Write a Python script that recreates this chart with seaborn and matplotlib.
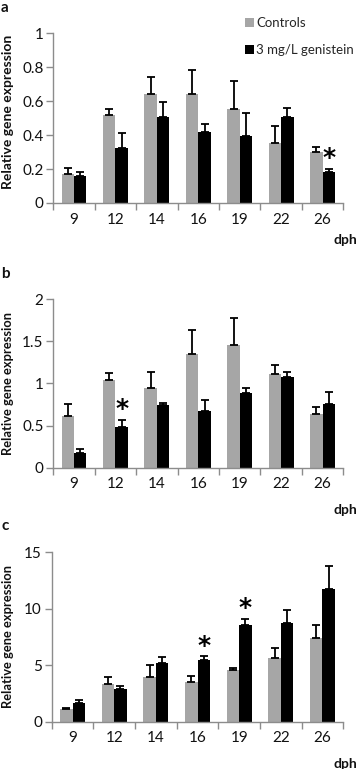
import matplotlib
matplotlib.use("Agg")
import matplotlib.pyplot as plt
import seaborn as sns
import numpy as np
import pandas as pd
from matplotlib.ticker import FixedLocator, FuncFormatter, NullFormatter

sns.set_style("white")
plt.rcParams['font.family'] = ['Lato', 'DejaVu Sans']

# ---- data ----
dph = ["9", "12", "14", "16", "19", "22", "26"]
groups = ["Controls", "3 mg/L genistein"]

a_ctrl = [0.17, 0.52, 0.643, 0.643, 0.553, 0.353, 0.30]
a_ctrl_err = [0.034, 0.033, 0.10, 0.141, 0.167, 0.102, 0.03]
a_gen = [0.157, 0.327, 0.506, 0.416, 0.392, 0.508, 0.182]
a_gen_err = [0.025, 0.087, 0.092, 0.049, 0.141, 0.053, 0.02]
a_stars = [6]

b_ctrl = [0.61, 1.04, 0.95, 1.35, 1.45, 1.11, 0.64]
b_ctrl_err = [0.15, 0.08, 0.18, 0.28, 0.33, 0.11, 0.08]
b_gen = [0.17, 0.486, 0.74, 0.67, 0.88, 1.07, 0.76]
b_gen_err = [0.055, 0.084, 0.03, 0.13, 0.07, 0.06, 0.14]
b_stars = [1]

c_ctrl = [1.15, 3.33, 3.95, 3.48, 4.54, 5.6, 7.4]
c_ctrl_err = [0.09, 0.67, 1.05, 0.59, 0.24, 0.89, 1.15]
c_gen = [1.65, 2.89, 5.19, 5.46, 8.58, 8.73, 11.74]
c_gen_err = [0.30, 0.30, 0.50, 0.32, 0.54, 1.12, 2.04]
c_stars = [3, 4]

a_yticks = [0, 0.2, 0.4, 0.6, 0.8, 1]
b_yticks = [0, 0.5, 1, 1.5, 2]
c_yticks = [0, 5, 10, 15]

GRAY = "#A6A6A6"
BLACK = "#000000"
SPINE = "#8C8C8C"

W, H = 357, 769
fig = plt.figure(figsize=(W / 100, H / 100), dpi=100)


def px_axes(left, right, top, bottom):
    return fig.add_axes([left / W, 1 - bottom / H, (right - left) / W, (bottom - top) / H])


panels = [
    dict(letter="a", ctrl=a_ctrl, cerr=a_ctrl_err, gen=a_gen, gerr=a_gen_err, stars=a_stars,
         yticks=a_yticks, box=(53.3, 343.3, 33.3, 203.0), legend=True, lab_y=0.535, lab_fs=10,
         dph_y=240, letter_y=1),
    dict(letter="b", ctrl=b_ctrl, cerr=b_ctrl_err, gen=b_gen, gerr=b_gen_err, stars=b_stars,
         yticks=b_yticks, box=(53.3, 343.3, 299.0, 467.7), legend=False, lab_y=0.5, lab_fs=9.3,
         dph_y=510, letter_y=267),
    dict(letter="c", ctrl=c_ctrl, cerr=c_ctrl_err, gen=c_gen, gerr=c_gen_err, stars=c_stars,
         yticks=c_yticks, box=(51.7, 343.3, 552.3, 721.7), legend=False, lab_y=0.5, lab_fs=9.3,
         dph_y=764, letter_y=519),
]

for p in panels:
    ax = px_axes(*p["box"])
    df = pd.DataFrame({
        "dph": dph * 2,
        "group": [groups[0]] * len(dph) + [groups[1]] * len(dph),
        "value": list(p["ctrl"]) + list(p["gen"]),
    })
    sns.barplot(data=df, x="dph", y="value", hue="group", order=dph, hue_order=groups,
                palette=[GRAY, BLACK], width=0.6, gap=0, errorbar=None, saturation=1,
                linewidth=0, ax=ax, legend=p["legend"])
    errs = [p["cerr"], p["gerr"]]
    vals = [p["ctrl"], p["gen"]]
    for ci, cont in enumerate(ax.containers[:2]):
        xs = [b.get_x() + b.get_width() / 2 for b in cont]
        ax.errorbar(xs, vals[ci], yerr=[np.zeros(len(xs)), errs[ci]], fmt="none",
                    ecolor="black", elinewidth=1.3, capsize=3, capthick=1.3, zorder=3)
        if ci == 1:
            for si in p["stars"]:
                top = vals[ci][si] + errs[ci][si]
                ax.annotate("*", (xs[si], top), xytext=(0, -1), textcoords="offset points",
                            ha="center", va="bottom", fontsize=18, fontweight="bold",
                            family=["DejaVu Sans"], color="black")

    ymax = p["yticks"][-1]
    ax.set_ylim(0, ymax)
    ax.set_xlim(-0.5, len(dph) - 0.5)
    ax.yaxis.set_major_locator(FixedLocator(p["yticks"]))
    ax.yaxis.set_major_formatter(FuncFormatter(lambda v, pos: f"{v:g}"))
    ax.xaxis.set_minor_locator(FixedLocator(np.arange(-0.5, len(dph), 1.0)))
    ax.xaxis.set_minor_formatter(NullFormatter())
    ax.tick_params(axis="x", which="major", length=0, pad=7, labelsize=11, labelcolor="#111111")
    ax.tick_params(axis="x", which="minor", length=5, width=1, color=SPINE, direction="out", bottom=True)
    ax.tick_params(axis="y", which="major", length=5, width=1, color=SPINE, direction="out",
                   pad=2, labelsize=11, labelcolor="#111111", left=True)
    for s in ["top", "right"]:
        ax.spines[s].set_visible(False)
    for s in ["left", "bottom"]:
        ax.spines[s].set_color(SPINE)
        ax.spines[s].set_linewidth(1)
    ax.set_xlabel("")
    ax.set_ylabel("Relative gene expression", fontsize=p["lab_fs"], fontweight="bold", color="#111111")
    left = p["box"][0]
    ax.yaxis.set_label_coords((14.5 - left) / (p["box"][1] - left), p["lab_y"])
    ax.set_facecolor("white")

    if p["legend"]:
        handles, labels = ax.get_legend_handles_labels()
        ax.legend(handles, labels, loc="upper left", bbox_to_anchor=(245 / W, 1 - 17 / H),
                  bbox_transform=fig.transFigure, frameon=False, fontsize=9.5,
                  handlelength=0.7, handleheight=0.7, handletextpad=0.15, labelspacing=1.15,
                  borderpad=0, borderaxespad=0)

    fig.text(345 / W, 1 - p["dph_y"] / H, "dph", ha="center", va="center",
             fontsize=10, fontweight="bold", color="#111111")
    fig.text(1 / W, 1 - p["letter_y"] / H, p["letter"], ha="left", va="top",
             fontsize=11, fontweight="bold", color="#111111")

fig.savefig("out.png", dpi=100, facecolor="white")
